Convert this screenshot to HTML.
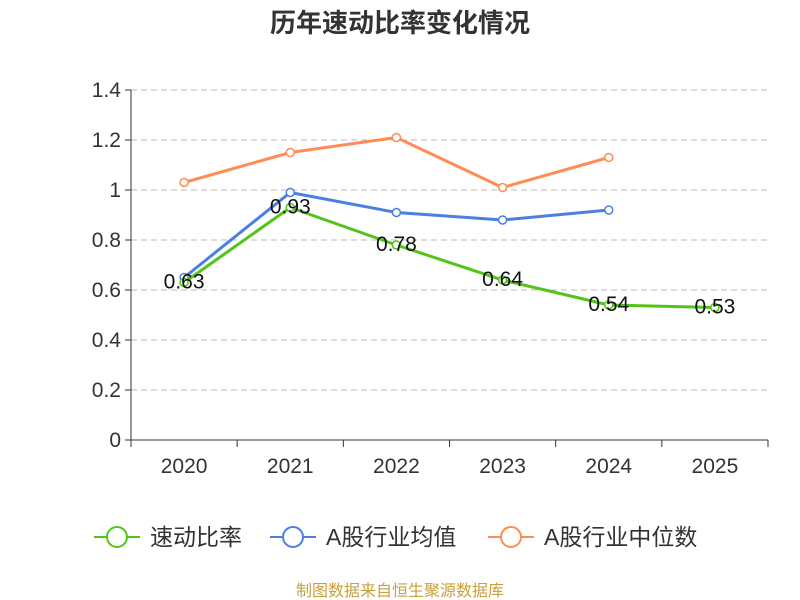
<!DOCTYPE html>
<html><head><meta charset="utf-8"><style>
body{margin:0;background:#fff;}
svg{display:block;font-family:"Liberation Sans","Noto Sans CJK SC",sans-serif;}
</style></head><body>
<svg id="chart" width="800" height="600">
<text x="400" y="32" text-anchor="middle" font-size="26" font-weight="bold" fill="#333">历年速动比率变化情况</text>
<g id="grid"></g><g id="axes"></g><g id="series"></g><g id="legend"></g>
<text x="400" y="596" text-anchor="middle" font-size="16" fill="#c8a03c">制图数据来自恒生聚源数据库</text>
</svg>
<script>
const categories=["2020","2021","2022","2023","2024","2025"];
const quickRatio=[0.63,0.93,0.78,0.64,0.54,0.53];
const industryAvg=[0.65,0.99,0.91,0.88,0.92];
const industryMedian=[1.03,1.15,1.21,1.01,1.13];
const yTicks=[0,0.2,0.4,0.6,0.8,1,1.2,1.4];
const yTickLabels=["0","0.2","0.4","0.6","0.8","1","1.2","1.4"];
const NS="http://www.w3.org/2000/svg";
const x0=131,x1=768,yb=440,yt=90,ymax=1.4;
const bw=(x1-x0)/categories.length;
const xs=i=>x0+bw*(i+0.5);
const ys=v=>yb-(v/ymax)*(yb-yt);
function mk(tag,attrs,parent){const e=document.createElementNS(NS,tag);for(const k in attrs)e.setAttribute(k,attrs[k]);parent.appendChild(e);return e;}
const grid=document.getElementById('grid'),axes=document.getElementById('axes'),ser=document.getElementById('series'),leg=document.getElementById('legend');
yTicks.forEach((t,i)=>{
  const y=ys(t);
  if(t>0){const l=mk('line',{x1:x0,x2:x1,y1:y,y2:y,stroke:'#bbb','stroke-dasharray':'6,4'},grid);
  
  }
  const tk=mk('line',{x1:x0-6,x2:x0,y1:y,y2:y,stroke:'#333'},axes);
  
  
  const tx=mk('text',{x:x0-10,y:y+7,'text-anchor':'end','font-size':21,fill:'#333'},axes);
  tx.textContent=yTickLabels[i];
  
  
});
const ya=mk('line',{x1:x0,x2:x0,y1:yt,y2:yb,stroke:'#333'},axes);


const xa=mk('line',{x1:x0,x2:x1,y1:yb,y2:yb,stroke:'#333'},axes);


for(let i=0;i<=categories.length;i++){const x=x0+bw*i;
  const tk=mk('line',{x1:x,x2:x,y1:yb,y2:yb+7,stroke:'#333'},axes);
  
  }
categories.forEach((c,i)=>{const t=mk('text',{x:xs(i),y:yb+33,'text-anchor':'middle','font-size':21,fill:'#333'},axes);t.textContent=c;
  
  });
function drawSeries(vals,color,name,labels){
  const pts=vals.map((v,i)=>xs(i)+','+ys(v)).join(' ');
  const pl=mk('polyline',{points:pts,fill:'none',stroke:color,'stroke-width':3},ser);
  
  
  vals.forEach((v,i)=>{const c=mk('circle',{cx:xs(i),cy:ys(v),r:4,fill:'#fff',stroke:color,'stroke-width':1.5},ser);
    
    
    if(labels){const t=mk('text',{x:xs(i),y:ys(v)+6,'text-anchor':'middle','font-size':21,fill:'#111'},ser);t.textContent=v.toFixed(2);
      
      }
  });
}
drawSeries(industryMedian,'#ff8c55','industry-median',false);
drawSeries(industryAvg,'#4a80e0','industry-average',false);
drawSeries(quickRatio,'#52c41a','quick-ratio',true);
const items=[["速动比率","#52c41a",94],["A股行业均值","#4a80e0",270],["A股行业中位数","#ff8c55",488]];
items.forEach(([n,c,x])=>{const g=mk('g',{},leg);
  
  
  mk('line',{x1:x,x2:x+46,y1:537,y2:537,stroke:c,'stroke-width':2},g);
  mk('circle',{cx:x+23,cy:537,r:10,fill:'#fff',stroke:c,'stroke-width':2},g);
  const t=mk('text',{x:x+56,y:545,'font-size':23,fill:'#333'},g);t.textContent=n;});
</script>
</body></html>
